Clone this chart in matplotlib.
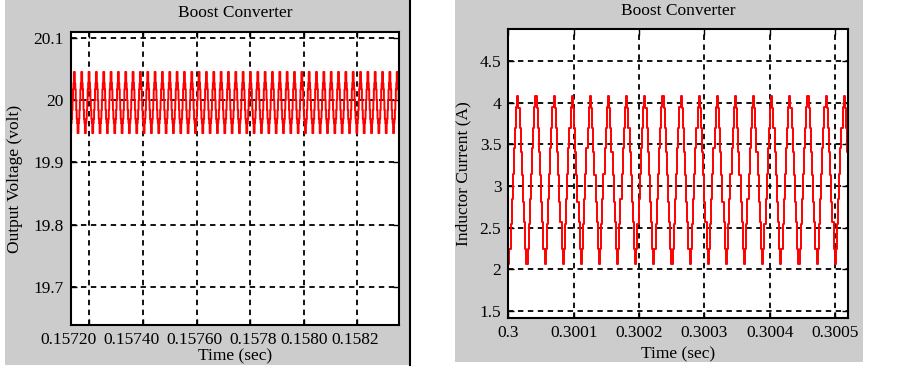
import numpy as np
import matplotlib
matplotlib.use("Agg")
import matplotlib.pyplot as plt
import matplotlib.transforms as mtransforms
from matplotlib.patches import Rectangle
from matplotlib.lines import Line2D

plt.rcParams['font.family'] = ['Liberation Serif', 'DejaVu Serif']
plt.rcParams['font.size'] = 12

voltage_cycle = [19.947, 19.963, 19.97, 19.984, 20.0, 20.017, 20.027, 20.045,
                 20.045, 20.027, 20.017, 20.0, 19.984, 19.97, 19.963, 19.947]
voltage_period = 2.74e-5          # s
voltage_span = (0.15713, 0.158356)

current_cycle = [2.07, 2.25, 2.55, 2.85, 3.15, 3.45, 3.7, 3.95, 4.08,
                 3.93, 3.69, 3.41, 3.13, 2.81, 2.57, 2.25]
current_period = 2.773e-5         # s
current_span = (0.3, 0.30052)

# --- axes ticks ---
v_xticks = [0.1572, 0.1574, 0.1576, 0.1578, 0.1580, 0.1582]
v_xticklabels = ['0.15720', '0.15740', '0.15760', '0.1578', '0.1580', '0.1582']
v_yticks = [19.7, 19.8, 19.9, 20.0, 20.1]
v_yticklabels = ['19.7', '19.8', '19.9', '20', '20.1']
v_ylim = (19.6396, 20.109)

i_xticks = [0.3, 0.3001, 0.3002, 0.3003, 0.3004, 0.3005]
i_xticklabels = ['0.3', '0.3001', '0.3002', '0.3003', '0.3004', '0.3005']
i_yticks = [1.5, 2.0, 2.5, 3.0, 3.5, 4.0, 4.5]
i_yticklabels = ['1.5', '2', '2.5', '3', '3.5', '4', '4.5']
i_ylim = (1.42, 4.88)


def sampled_wave(cycle, period, span):
    """Repeat the read-off cycle over the visible time span."""
    dt = period / len(cycle)
    n = int(np.ceil((span[1] - span[0]) / dt)) + 2
    t = span[0] + dt * np.arange(n)
    return t, np.resize(np.asarray(cycle), n)


def style_axes(ax):
    for s in ax.spines.values():
        s.set_linewidth(1.5)
    ax.tick_params(direction='in', length=4, width=1, top=True, right=True,
                   labelsize=12.5, pad=5)
    ax.grid(True, color='black', linestyle=(0, (3, 2.5)), linewidth=1.3)
    ax.set_axisbelow(True)


fig = plt.figure(figsize=(9.03, 3.67), dpi=100)
W, H = 903, 367

# grey panel backgrounds (behind the axes)
fig.patches.append(Rectangle((5 / W, 2 / H), 404 / W, 1 - 2 / H, transform=fig.transFigure,
                             facecolor='#cccccc', edgecolor='none', zorder=-5))
fig.patches.append(Rectangle((455 / W, 5 / H), 408 / W, 1 - 5 / H, transform=fig.transFigure,
                             facecolor='#cccccc', edgecolor='none', zorder=-5))
fig.lines.append(Line2D([410 / W, 410 / W], [2 / H, 1], transform=fig.transFigure,
                        color='black', linewidth=1.5, zorder=-4))

# --- left: output voltage ---
ax1 = fig.add_axes([70.7 / W, 1 - 325 / H, 328.3 / W, 293 / H])
t, v = sampled_wave(voltage_cycle, voltage_period, voltage_span)
ax1.plot(t, v, color='red', linewidth=1.4, drawstyle='steps-post')
ax1.set_xlim(*voltage_span)
ax1.set_ylim(*v_ylim)
ax1.set_xticks(v_xticks)
ax1.set_xticklabels(v_xticklabels)
ax1.set_yticks(v_yticks)
ax1.set_yticklabels(v_yticklabels)
style_axes(ax1)
ax1.set_title('Boost Converter', fontsize=12.5, pad=11)
ax1.set_xlabel('Time (sec)', fontsize=12.5)
ax1.set_ylabel('Output Voltage (volt)', fontsize=12.5)
ax1.xaxis.set_label_coords(0.5, -0.08)
ax1.yaxis.set_label_coords(-0.145, 0.5)
# the tick labels in the original sit a little off their grid lines
for lab, dx in zip(ax1.get_xticklabels(), [-21, -12, -2, 3, 0, -2]):
    lab.set_transform(lab.get_transform() +
                      mtransforms.ScaledTranslation(dx / 100, 0, fig.dpi_scale_trans))

# --- right: inductor current ---
ax2 = fig.add_axes([508.3 / W, 1 - 317.7 / H, 340 / W, 288.4 / H])
t, i = sampled_wave(current_cycle, current_period, current_span)
ax2.plot(t, i, color='red', linewidth=1.4, drawstyle='steps-post')
ax2.set_xlim(*current_span)
ax2.set_ylim(*i_ylim)
ax2.set_xticks(i_xticks)
ax2.set_xticklabels(i_xticklabels)
ax2.set_yticks(i_yticks)
ax2.set_yticklabels(i_yticklabels)
style_axes(ax2)
ax2.set_title('Boost Converter', fontsize=12.5, pad=10)
ax2.set_xlabel('Time (sec)', fontsize=12.5)
ax2.set_ylabel('Inductor Current (A)', fontsize=12.5)
ax2.xaxis.set_label_coords(0.5, -0.1)
ax2.yaxis.set_label_coords(-0.11, 0.5)

fig.savefig('out.png', dpi=100)
